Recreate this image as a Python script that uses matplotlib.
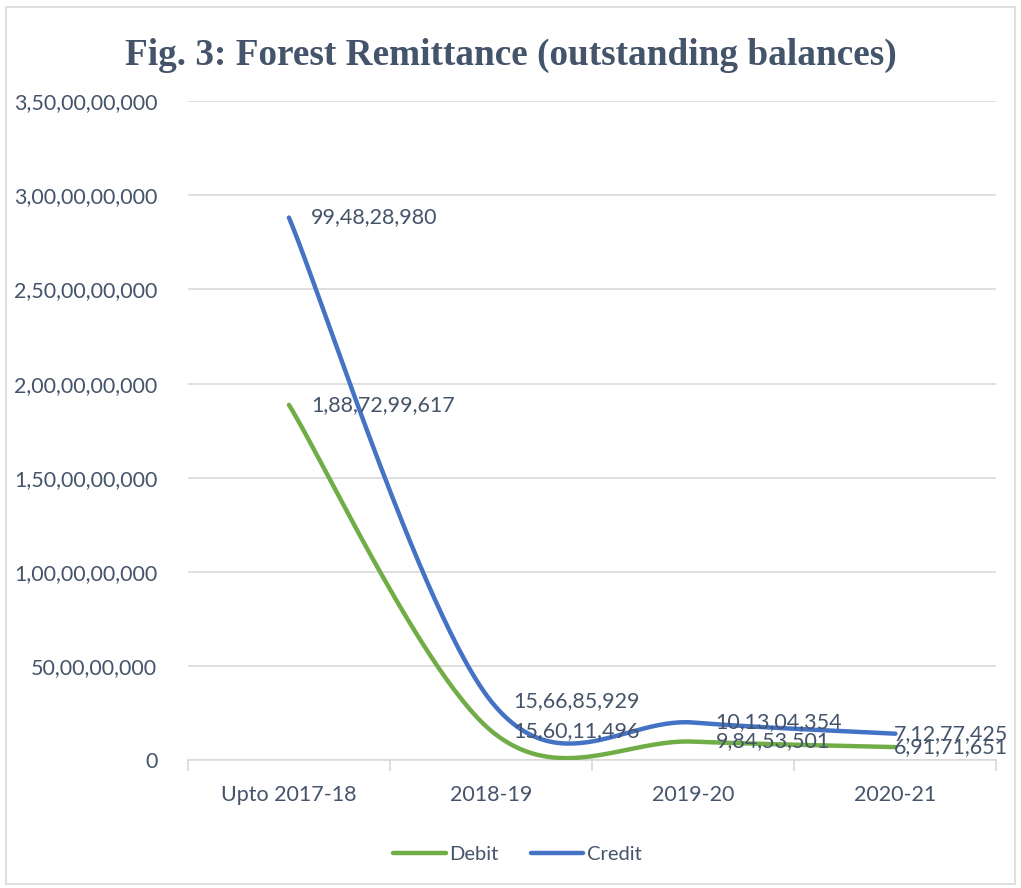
import numpy as np
import matplotlib.pyplot as plt
from matplotlib.ticker import FuncFormatter

years = ["Upto 2017-18", "2018-19", "2019-20", "2020-21"]
debit = [1887299617, 156011496, 98453501, 69171651]
credit = [994828980, 156685929, 101304354, 71277425]

txt = "#44546A"
green = "#70AD47"
blue = "#4472C4"
grid = "#D9D9D9"


def indian(n):
    s = str(int(n))
    if len(s) <= 3:
        return s
    head, tail = s[:-3], s[-3:]
    parts = []
    while len(head) > 2:
        parts.insert(0, head[-2:])
        head = head[:-2]
    if head:
        parts.insert(0, head)
    return ",".join(parts) + "," + tail


def smooth(xs, ys, n=60):
    # excel-style smoothed line: cubic bezier with catmull-rom control points
    xs = np.asarray(xs, float)
    ys = np.asarray(ys, float)
    px = np.concatenate([[xs[0]], xs, [xs[-1]]])
    py = np.concatenate([[ys[0]], ys, [ys[-1]]])
    ox, oy = [], []
    t = np.linspace(0, 1, n)
    for i in range(len(xs) - 1):
        p0 = np.array([px[i + 1], py[i + 1]])
        p3 = np.array([px[i + 2], py[i + 2]])
        c1 = p0 + (np.array([px[i + 2], py[i + 2]]) - np.array([px[i], py[i]])) / 6
        c2 = p3 - (np.array([px[i + 3], py[i + 3]]) - np.array([px[i + 1], py[i + 1]])) / 6
        bx = (1 - t) ** 3 * p0[0] + 3 * (1 - t) ** 2 * t * c1[0] + 3 * (1 - t) * t ** 2 * c2[0] + t ** 3 * p3[0]
        by = (1 - t) ** 3 * p0[1] + 3 * (1 - t) ** 2 * t * c1[1] + 3 * (1 - t) * t ** 2 * c2[1] + t ** 3 * p3[1]
        ox.extend(bx)
        oy.extend(by)
    return np.array(ox), np.array(oy)


plt.rcParams['font.family'] = ['Lato', 'DejaVu Sans']
fs = 15.5

fig = plt.figure(figsize=(10.21, 8.88), dpi=100)
ax = fig.add_axes([0.184, 0.144, 0.792, 0.742])

x = np.arange(len(years))
stacked = np.array(debit) + np.array(credit)

sx, sy = smooth(x, debit)
ax.plot(sx, sy, color=green, lw=3.2, solid_capstyle="round", label="Debit", zorder=3)
sx, sy = smooth(x, stacked)
ax.plot(sx, sy, color=blue, lw=3.2, solid_capstyle="round", label="Credit", zorder=3)

for i in range(len(years)):
    # last labels get pushed back so they stay inside the chart, like excel does
    off = 16 if i < len(years) - 1 else -1
    ax.annotate(indian(debit[i]), (x[i], debit[i]), xytext=(off, 0), textcoords="offset points",
                va="center", ha="left", fontsize=fs, color=txt, zorder=4)
    ax.annotate(indian(credit[i]), (x[i], stacked[i]), xytext=(off, 0), textcoords="offset points",
                va="center", ha="left", fontsize=fs, color=txt, zorder=4)

ax.set_xlim(-0.5, 3.5)
ax.set_ylim(0, 3500000000)
ax.set_yticks(np.arange(0, 3500000001, 500000000))
ax.yaxis.set_major_formatter(FuncFormatter(lambda v, p: indian(v)))
ax.set_xticks(x)
ax.set_xticklabels(years)
ax.set_xticks(np.arange(-0.5, 4, 1), minor=True)

ax.grid(axis="y", color=grid, lw=1.2)
ax.set_axisbelow(True)
for s in ["top", "right", "left"]:
    ax.spines[s].set_visible(False)
ax.spines["bottom"].set_color(grid)
ax.spines["bottom"].set_linewidth(1.2)
ax.tick_params(axis="y", length=0, pad=22, labelsize=fs, labelcolor=txt)
ax.tick_params(axis="x", which="major", length=0, pad=18, labelsize=fs, labelcolor=txt)
ax.tick_params(axis="x", which="minor", length=8, width=1.2, color=grid)

fig.suptitle("Fig. 3: Forest Remittance (outstanding balances)", y=0.957,
             fontsize=26.8, fontweight="bold", color=txt, family="Liberation Serif")

leg = fig.legend(loc="center", bbox_to_anchor=(0.507, 0.038), ncol=2, frameon=False,
                 fontsize=14.5, handlelength=2.6, handletextpad=0.2, columnspacing=1.6)
for t in leg.get_texts():
    t.set_color(txt)

fig.patches.append(plt.Rectangle((0.006, 0.004), 0.988, 0.988, transform=fig.transFigure,
                                 fill=False, edgecolor=grid, lw=1.2))

fig.savefig("out.png", dpi=100)
